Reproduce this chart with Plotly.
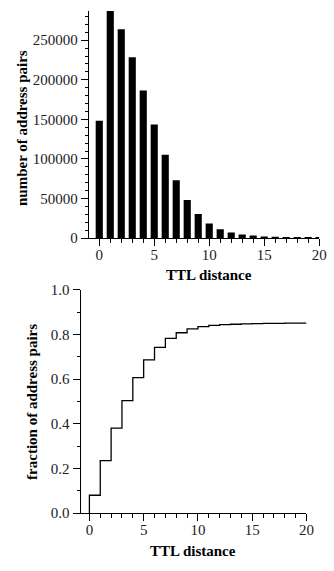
import plotly.graph_objects as go

ttl = list(range(0, 21))
pairs = [148300, 287000, 263900, 228600, 186500, 143400, 105300, 73000, 48000,
         30500, 18500, 11100, 7000, 4500, 3200, 2100, 1600, 1200, 800, 600, 400]
cdf = [0.080, 0.235, 0.381, 0.504, 0.607, 0.686, 0.742, 0.783, 0.808, 0.825,
       0.835, 0.841, 0.844, 0.846, 0.848, 0.849, 0.850, 0.850, 0.851, 0.851, 0.851]

W, H = 334, 571
FONT = "Liberation Serif"

fig = go.Figure()
fig.add_trace(go.Bar(x=ttl, y=pairs, width=0.65, marker=dict(color="black", line=dict(width=0)),
                     xaxis="x", yaxis="y", showlegend=False))
fig.add_trace(go.Scatter(x=[0] + ttl, y=[0] + cdf, mode="lines", line=dict(color="black", width=1.3, shape="hv"),
                         xaxis="x2", yaxis="y2", showlegend=False))

def px_x(v):
    return v / W

def px_y(v):
    return 1 - v / H

axis_common = dict(showline=True, linecolor="black", linewidth=1.3, showgrid=False, zeroline=False,
                   ticks="outside", ticklen=7, tickwidth=1.3, tickcolor="black",
                   tickfont=dict(family=FONT, size=15, color="#222"))

fig.update_layout(
    width=W, height=H, margin=dict(l=0, r=0, t=0, b=0),
    paper_bgcolor="white", plot_bgcolor="white",
    xaxis=dict(domain=[px_x(91), px_x(327)], range=[-0.95, 20], dtick=5, tick0=0,
               minor=dict(ticks="outside", dtick=1, ticklen=4, tickcolor="black", tickwidth=1.2),
               anchor="y", ticklabelstandoff=-4, **axis_common),
    yaxis=dict(domain=[px_y(236.7), px_y(3)], range=[0, 287000], dtick=50000, tick0=0, tickformat="d",
               minor=dict(ticks="outside", dtick=10000, ticklen=3, tickcolor="black", tickwidth=1.2),
               anchor="x", **axis_common),
    xaxis2=dict(domain=[px_x(82.7), px_x(314)], range=[-0.8, 20], dtick=5, tick0=0,
                minor=dict(ticks="outside", dtick=1, ticklen=4, tickcolor="black", tickwidth=1.2),
                anchor="y2", ticklabelstandoff=-4, **axis_common),
    yaxis2=dict(domain=[px_y(519.7), px_y(290)], range=[0, 1.0], dtick=0.2, tick0=0, tickformat=".1f",
                minor=dict(ticks="outside", dtick=0.1, ticklen=3, tickcolor="black", tickwidth=1.2),
                anchor="x2", **axis_common),
    annotations=[
        dict(text="<b>TTL distance</b>", x=px_x(214), y=px_y(275), xref="paper", yref="paper",
             showarrow=False, xanchor="center", yanchor="middle", font=dict(family=FONT, size=15, color="black")),
        dict(text="<b>number of address pairs</b>", x=px_x(22), y=px_y(123), xref="paper", yref="paper",
             showarrow=False, xanchor="center", yanchor="middle", textangle=-90,
             font=dict(family=FONT, size=15, color="black")),
        dict(text="<b>TTL distance</b>", x=px_x(198), y=px_y(559), xref="paper", yref="paper",
             showarrow=False, xanchor="center", yanchor="middle", font=dict(family=FONT, size=15, color="black")),
        dict(text="<b>fraction of address pairs</b>", x=px_x(32), y=px_y(405), xref="paper", yref="paper",
             showarrow=False, xanchor="center", yanchor="middle", textangle=-90,
             font=dict(family=FONT, size=15, color="black")),
    ],
)

fig.write_html("out.html")
